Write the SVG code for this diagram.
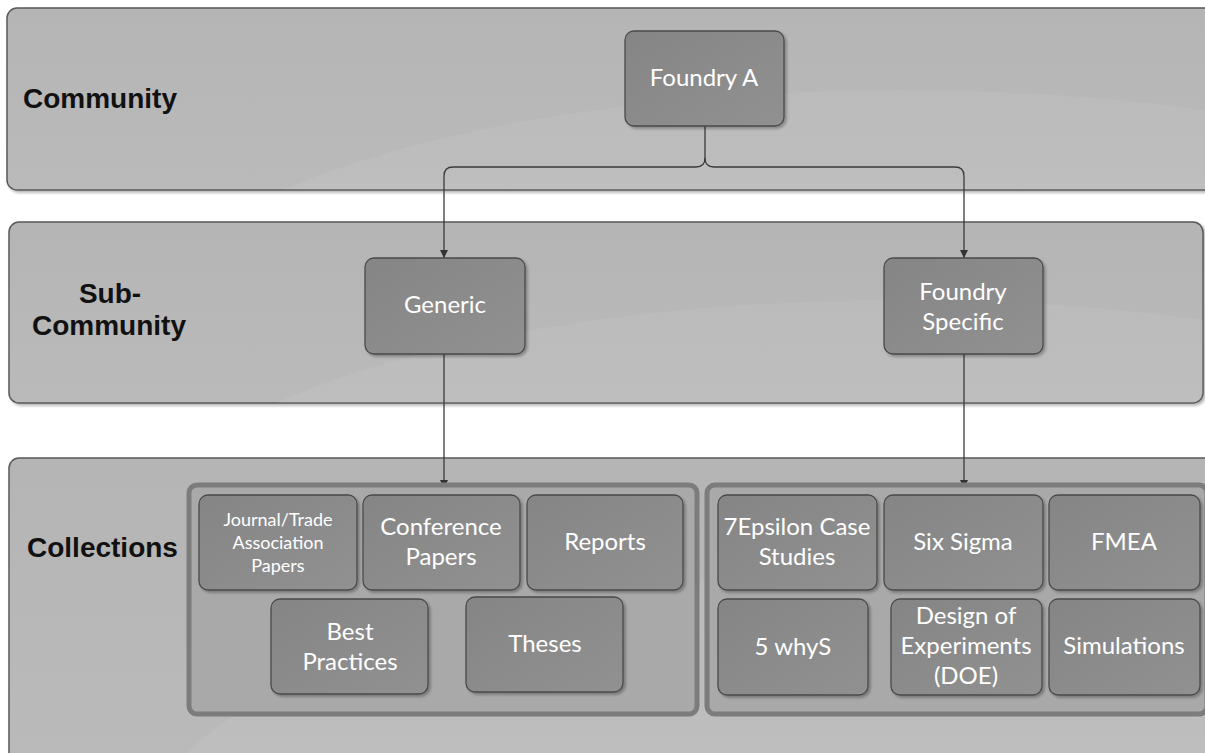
<svg xmlns="http://www.w3.org/2000/svg" width="1205" height="753" viewBox="0 0 1205 753">
  <defs>
    <linearGradient id="bandFill" x1="0" y1="0" x2="0" y2="1">
      <stop offset="0" stop-color="#b5b5b5"/>
      <stop offset="1" stop-color="#bababa"/>
    </linearGradient>
    <linearGradient id="nodeFill" x1="0" y1="0" x2="1" y2="1">
      <stop offset="0" stop-color="#858585"/>
      <stop offset="1" stop-color="#919191"/>
    </linearGradient>
    <filter id="shadow" x="-10%" y="-10%" width="130%" height="130%">
      <feGaussianBlur in="SourceAlpha" stdDeviation="1.5"/>
      <feOffset dx="2" dy="2" result="b"/>
      <feComponentTransfer><feFuncA type="linear" slope="0.3"/></feComponentTransfer>
      <feMerge><feMergeNode/><feMergeNode in="SourceGraphic"/></feMerge>
    </filter>
    <clipPath id="clipBand1"><rect x="7" y="8" width="1210" height="182" rx="10"/></clipPath>
    <clipPath id="clipBand2"><rect x="9" y="222" width="1194" height="181" rx="10"/></clipPath>
    <clipPath id="clipBand3"><rect x="9" y="458" width="1210" height="310" rx="10"/></clipPath>
    <marker id="arrow" viewBox="0 0 10 10" refX="10" refY="5" markerWidth="10" markerHeight="8" markerUnits="userSpaceOnUse" orient="auto">
      <path d="M0,0 L10,5 L0,10 z" fill="#333"/>
    </marker>
    <style>
      .band { fill: url(#bandFill); stroke: #5a5a5a; stroke-width: 1.5; }
      .swoosh { fill: #ffffff; fill-opacity: 0.06; }
      .group { fill: #a9a9a9; stroke: #7c7c7c; stroke-width: 5; }
      .node { fill: url(#nodeFill); stroke: #4a4a4a; stroke-width: 1.3; filter: url(#shadow); }
      .lvl { font-family: "Liberation Sans", Arial, sans-serif; font-weight: bold; font-size: 28px; fill: #111; }
      .lbl { font-family: Lato, "Open Sans", sans-serif; font-size: 24px; fill: #ffffff; text-anchor: middle; }
      .lbl-sm { font-size: 18px; }
      .conn { fill: none; stroke: #3a3a3a; stroke-width: 1.3; }
    </style>
  </defs>

  <!-- level bands -->
  <g id="band-community">
    <rect class="band" x="7" y="8" width="1210" height="182" rx="10" filter="url(#shadow)"/>
    <ellipse class="swoosh" cx="900" cy="330" rx="760" ry="240" clip-path="url(#clipBand1)"/>
    <text class="lvl" x="23" y="108">Community</text>
  </g>
  <g id="band-subcommunity">
    <rect class="band" x="9" y="222" width="1194" height="181" rx="10" filter="url(#shadow)"/>
    <ellipse class="swoosh" cx="900" cy="540" rx="760" ry="240" clip-path="url(#clipBand2)"/>
    <text class="lvl" x="110" y="303" text-anchor="middle">Sub-</text>
    <text class="lvl" x="109" y="335" text-anchor="middle">Community</text>
  </g>
  <g id="band-collections">
    <rect class="band" x="9" y="458" width="1210" height="310" rx="10" filter="url(#shadow)"/>
    <ellipse class="swoosh" cx="900" cy="850" rx="760" ry="280" clip-path="url(#clipBand3)"/>
    <text class="lvl" x="27" y="557">Collections</text>
  </g>

  <!-- connectors -->
  <g id="connectors">
    <path class="conn" d="M705,126 V158 Q705,167 696,167 H453 Q444,167 444,176 V258" marker-end="url(#arrow)"/>
    <path class="conn" d="M705,158 Q705,167 714,167 H955 Q964,167 964,176 V258" marker-end="url(#arrow)"/>
    <path class="conn" d="M444,354 V488" marker-end="url(#arrow)"/>
    <path class="conn" d="M964,354 V488" marker-end="url(#arrow)"/>
  </g>

  <!-- community -->
  <g id="node-foundry-a">
    <rect class="node" x="625" y="31" width="159" height="95" rx="9"/>
    <text class="lbl" x="704" y="86">Foundry A</text>
  </g>

  <!-- sub-communities -->
  <g id="node-generic">
    <rect class="node" x="365" y="258" width="160" height="96" rx="9"/>
    <text class="lbl" x="445" y="313">Generic</text>
  </g>
  <g id="node-foundry-specific">
    <rect class="node" x="884" y="258" width="159" height="96" rx="9"/>
    <text class="lbl" x="963" y="300">Foundry</text>
    <text class="lbl" x="963" y="330">Specific</text>
  </g>

  <!-- generic collections -->
  <g id="group-generic">
    <rect class="group" x="189" y="485" width="508" height="229" rx="8"/>
  </g>
  <g id="node-journal">
    <rect class="node" x="199" y="495" width="158" height="95" rx="9"/>
    <text class="lbl lbl-sm" x="278" y="526">Journal/Trade</text>
    <text class="lbl lbl-sm" x="278" y="549">Association</text>
    <text class="lbl lbl-sm" x="278" y="572">Papers</text>
  </g>
  <g id="node-conference">
    <rect class="node" x="363" y="495" width="157" height="95" rx="9"/>
    <text class="lbl" x="441" y="535">Conference</text>
    <text class="lbl" x="441" y="565">Papers</text>
  </g>
  <g id="node-reports">
    <rect class="node" x="527" y="495" width="156" height="95" rx="9"/>
    <text class="lbl" x="605" y="550">Reports</text>
  </g>
  <g id="node-best-practices">
    <rect class="node" x="271" y="599" width="157" height="95" rx="9"/>
    <text class="lbl" x="350" y="640">Best</text>
    <text class="lbl" x="350" y="670">Practices</text>
  </g>
  <g id="node-theses">
    <rect class="node" x="466" y="597" width="157" height="95" rx="9"/>
    <text class="lbl" x="545" y="652">Theses</text>
  </g>

  <!-- foundry specific collections -->
  <g id="group-specific">
    <rect class="group" x="707" y="485" width="500" height="229" rx="8"/>
  </g>
  <g id="node-7epsilon">
    <rect class="node" x="718" y="495" width="159" height="95" rx="9"/>
    <text class="lbl" x="797" y="535">7Epsilon Case</text>
    <text class="lbl" x="797" y="565">Studies</text>
  </g>
  <g id="node-six-sigma">
    <rect class="node" x="884" y="495" width="159" height="95" rx="9"/>
    <text class="lbl" x="963" y="550">Six Sigma</text>
  </g>
  <g id="node-fmea">
    <rect class="node" x="1049" y="495" width="151" height="95" rx="9"/>
    <text class="lbl" x="1124" y="550">FMEA</text>
  </g>
  <g id="node-5-whys">
    <rect class="node" x="718" y="599" width="150" height="96" rx="9"/>
    <text class="lbl" x="793" y="655">5 whyS</text>
  </g>
  <g id="node-doe">
    <rect class="node" x="891" y="599" width="151" height="96" rx="9"/>
    <text class="lbl" x="966" y="624">Design of</text>
    <text class="lbl" x="966" y="654">Experiments</text>
    <text class="lbl" x="966" y="684">(DOE)</text>
  </g>
  <g id="node-simulations">
    <rect class="node" x="1049" y="599" width="151" height="96" rx="9"/>
    <text class="lbl" x="1124" y="654">Simulations</text>
  </g>
</svg>
